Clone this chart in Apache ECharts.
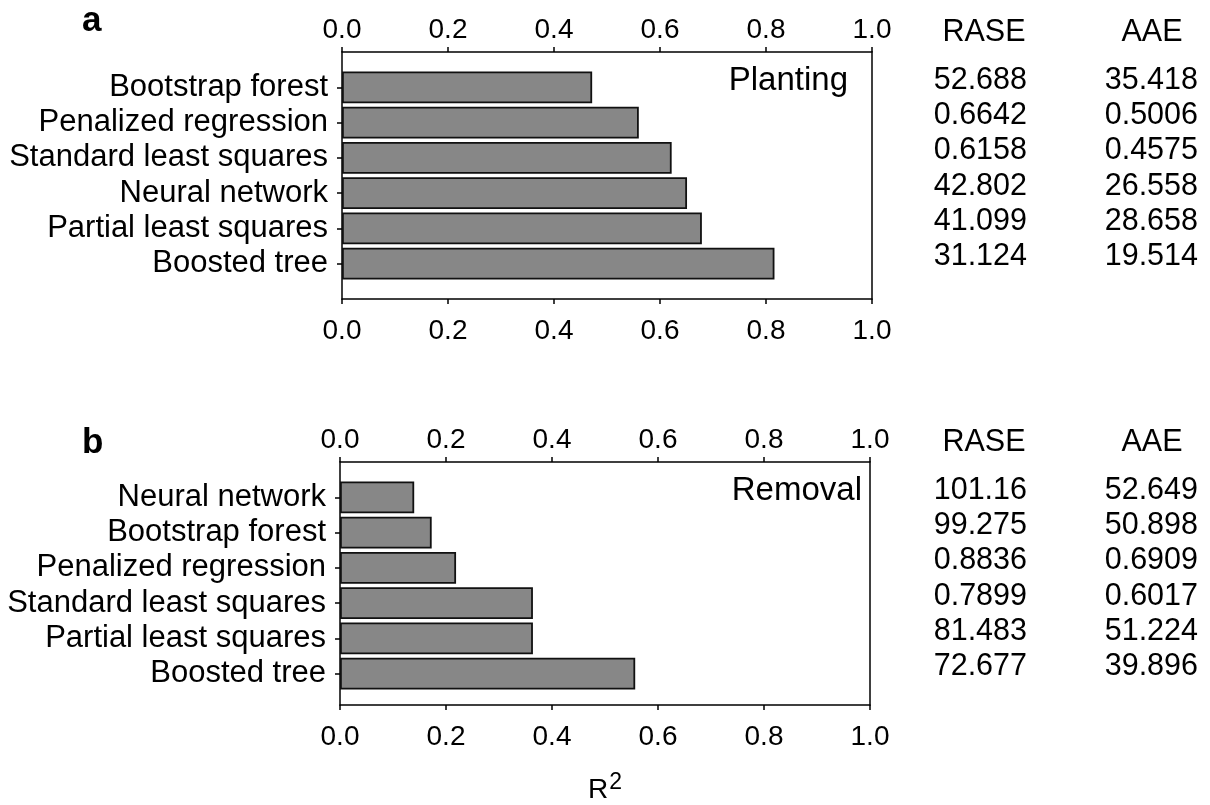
<!DOCTYPE html>
<html><head><meta charset="utf-8">
<script src="https://cdn.jsdelivr.net/npm/echarts@6/dist/echarts.min.js"></script>
<style>html,body{margin:0;padding:0;background:#fff}#c{width:1210px;height:805px}</style>
</head><body><div id="c"></div>
<script>
// ---- data ----
const catsA = ['Bootstrap forest','Penalized regression','Standard least squares','Neural network','Partial least squares','Boosted tree'];
const r2A = [0.472, 0.560, 0.622, 0.651, 0.679, 0.816];
const raseA = ['52.688','0.6642','0.6158','42.802','41.099','31.124'];
const aaeA = ['35.418','0.5006','0.4575','26.558','28.658','19.514'];
const catsB = ['Neural network','Bootstrap forest','Penalized regression','Standard least squares','Partial least squares','Boosted tree'];
const r2B = [0.140, 0.173, 0.219, 0.364, 0.364, 0.557];
const raseB = ['101.16','99.275','0.8836','0.7899','81.483','72.677'];
const aaeB = ['52.649','50.898','0.6909','0.6017','51.224','39.896'];
const xMin = 0, xMax = 1.0, xStep = 0.2;
const tableHeaders = ['RASE','AAE'];
const panelTitles = ['Planting','Removal'];
const panelLetters = ['a','b'];
const xName = 'R';
const xNameSup = '2';

// ---- layout / style ----
const FONT = '"Liberation Sans", Arial, Helvetica, sans-serif';
const TICK_FS = 28, CAT_FS = 31, TAB_FS = 30.5;
const panels = [
  {frame:{left:342, top:52, width:530, height:247}, pad:17.8, cats:catsA, vals:r2A, rase:raseA, aae:aaeA, letterY:4, titleRight:848, titleFs:33},
  {frame:{left:340, top:462, width:530, height:247}, pad:17.8, cats:catsB, vals:r2B, rase:raseB, aae:aaeB, letterY:426, titleRight:862, titleFs:33}
];
const lineStyle = {color:'#000', width:1.5};

const grid = [], xAxis = [], yAxis = [], series = [];
panels.forEach((p, k) => {
  const f = p.frame;
  grid.push({left:f.left, top:f.top, width:f.width, height:f.height, containLabel:false});
  grid.push({left:f.left, top:f.top + p.pad, width:f.width, height:f.height - 2*p.pad, containLabel:false});
  const gF = 2*k, gB = 2*k + 1;
  const common = {type:'value', gridIndex:gF, min:xMin, max:xMax, interval:xStep,
    axisLine:{show:true, onZero:false, lineStyle}, axisTick:{show:true, inside:false, length:5, lineStyle},
    splitLine:{show:false},
    axisLabel:{fontSize:TICK_FS, fontFamily:FONT, color:'#000', formatter:v=>v.toFixed(1)}};
  xAxis.push(Object.assign({}, common, {position:'top', axisLabel:Object.assign({}, common.axisLabel, {margin:8})}));
  const bottom = Object.assign({}, common, {position:'bottom', axisLabel:Object.assign({}, common.axisLabel, {margin:18})});
  if (k === 1) {
    Object.assign(bottom, {
      name:'{r|' + xName + '}{s|' + xNameSup + '}', nameLocation:'middle', nameGap:66,
      nameTextStyle:{rich:{
        r:{fontSize:28, fontFamily:FONT, color:'#000', verticalAlign:'bottom'},
        s:{fontSize:23, fontFamily:FONT, color:'#000', verticalAlign:'bottom', padding:[0,0,10,1]}
      }}
    });
  }
  xAxis.push(bottom);
  xAxis.push({type:'value', gridIndex:gB, min:xMin, max:xMax, show:false});
  const yFrame = {type:'value', gridIndex:gF, min:0, max:1, axisLine:{show:true, onZero:false, lineStyle},
    axisTick:{show:false}, axisLabel:{show:false}, splitLine:{show:false}};
  yAxis.push(Object.assign({}, yFrame, {position:'left'}));
  yAxis.push(Object.assign({}, yFrame, {position:'right'}));
  yAxis.push({type:'category', gridIndex:gB, data:p.cats, inverse:true,
    axisLine:{show:false}, axisTick:{show:true, alignWithLabel:true, interval:0, length:5, lineStyle},
    axisLabel:{fontSize:CAT_FS, fontFamily:FONT, color:'#000', margin:14, interval:0}});
  series.push({type:'scatter', xAxisIndex:3*k, yAxisIndex:3*k, data:[], silent:true});
  series.push({type:'bar', xAxisIndex:3*k+2, yAxisIndex:3*k+2, data:p.vals,
    barCategoryGap:'10%', itemStyle:{color:'#878787', borderColor:'#111', borderWidth:1.8}, silent:true});
});

const chart = echarts.init(document.getElementById('c'), null, {renderer:'canvas'});
chart.setOption({animation:false, backgroundColor:'#fff', grid, xAxis, yAxis, series});

// ---- annotations: panel letters, titles, table ----
const graphic = [];
const RASE_RIGHT = 1027, AAE_RIGHT = 1198, RASE_HDR = 984, AAE_HDR = 1152;
panels.forEach((p, k) => {
  const f = p.frame;
  graphic.push({type:'text', x:82, y:p.letterY, style:{text:panelLetters[k], font:'bold 35px ' + FONT, fill:'#000', align:'left', verticalAlign:'top'}});
  graphic.push({type:'text', x:p.titleRight, y:f.top + 29, style:{text:panelTitles[k], font:p.titleFs + 'px ' + FONT, fill:'#000', align:'right', verticalAlign:'middle'}});
  graphic.push({type:'text', x:RASE_HDR, y:f.top - 19, style:{text:tableHeaders[0], font:TAB_FS + 'px ' + FONT, fill:'#000', align:'center', verticalAlign:'middle'}});
  graphic.push({type:'text', x:AAE_HDR, y:f.top - 19, style:{text:tableHeaders[1], font:TAB_FS + 'px ' + FONT, fill:'#000', align:'center', verticalAlign:'middle'}});
  p.cats.forEach((c, i) => {
    const y = chart.convertToPixel({yAxisIndex:3*k+2}, i) - 7;
    graphic.push({type:'text', x:RASE_RIGHT, y, style:{text:p.rase[i], font:TAB_FS + 'px ' + FONT, fill:'#000', align:'right', verticalAlign:'middle'}});
    graphic.push({type:'text', x:AAE_RIGHT, y, style:{text:p.aae[i], font:TAB_FS + 'px ' + FONT, fill:'#000', align:'right', verticalAlign:'middle'}});
  });
});
chart.setOption({graphic});
</script>
</body></html>
